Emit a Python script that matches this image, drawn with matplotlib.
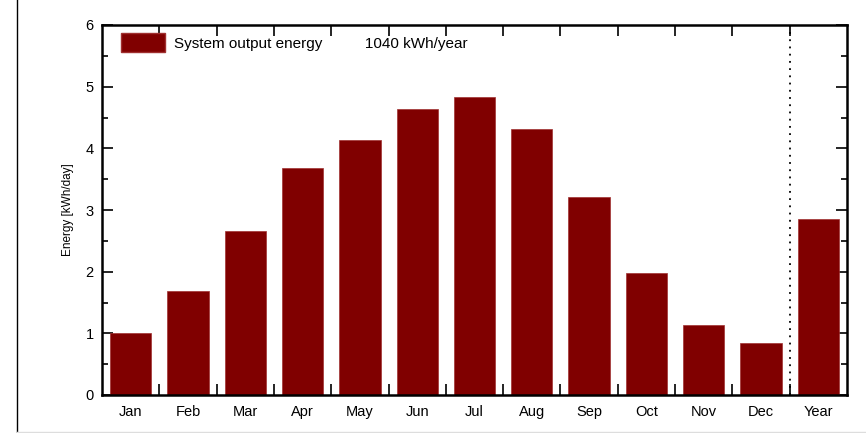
import matplotlib
matplotlib.use("Agg")
import matplotlib.pyplot as plt
from matplotlib.ticker import MultipleLocator, FixedLocator
from matplotlib.lines import Line2D
from matplotlib.patches import Patch

plt.rcParams['font.family'] = ['Liberation Sans', 'DejaVu Sans']

categories = ["Jan", "Feb", "Mar", "Apr", "May", "Jun", "Jul", "Aug", "Sep", "Oct", "Nov", "Dec", "Year"]
energy = [1.01, 1.68, 2.66, 3.68, 4.13, 4.63, 4.83, 4.31, 3.21, 1.98, 1.13, 0.84, 2.85]
legend_label = "System output energy          1040 kWh/year"
ylabel = "Energy [kWh/day]"
bar_color = "#800000"

W, H = 866, 433
fig = plt.figure(figsize=(W / 100, H / 100), dpi=100)
ax = fig.add_axes([102 / W, 1 - 395 / H, 745 / W, 370 / H])

x = list(range(len(categories)))
ax.bar(x, energy, width=0.72, color=bar_color, edgecolor="#a03030", linewidth=0.5, zorder=2)

ax.set_xlim(-0.5, len(categories) - 0.5)
ax.set_ylim(0, 6)

# Dotted separator before "Year"
ax.axvline(len(categories) - 1.5, color="black", linestyle=(0, (1, 3)), linewidth=1.3, zorder=1)

ax.set_xticks(x)
ax.set_xticklabels(categories, fontsize=10.5)
ax.tick_params(axis="x", which="major", length=0, pad=7)
ax.xaxis.set_minor_locator(FixedLocator([i + 0.5 for i in range(len(categories) - 1)]))
ax.tick_params(axis="x", which="minor", direction="in", length=8, width=1.2, top=True, bottom=True)

ax.yaxis.set_major_locator(MultipleLocator(1))
ax.yaxis.set_minor_locator(MultipleLocator(0.5))
ax.tick_params(axis="y", which="major", direction="in", length=8, width=1.2, left=True, right=True,
               labelsize=10.5, pad=6)
ax.tick_params(axis="y", which="minor", direction="in", length=4, width=1.2, left=True, right=True)

for s in ax.spines.values():
    s.set_linewidth(1.8)

ax.set_ylabel(ylabel, fontsize=8.5, labelpad=8)

fs = 11
handle = Patch(facecolor=bar_color, edgecolor="#a03030")
ax.legend([handle], [legend_label], loc="upper left", frameon=False, fontsize=fs,
          handlelength=44 / (fs * 100 / 72), handleheight=24 / (fs * 100 / 72),
          handletextpad=0.6, borderpad=0, borderaxespad=0,
          bbox_to_anchor=(121 / W, 1 - 33 / H), bbox_transform=fig.transFigure)

# figure frame lines
fig.add_artist(Line2D([17 / W, 17 / W], [0, 1], color="black", linewidth=1.0))
fig.add_artist(Line2D([17 / W, 1], [1 / H, 1 / H], color="#dddddd", linewidth=1.0))

fig.savefig("out.png", dpi=100)
